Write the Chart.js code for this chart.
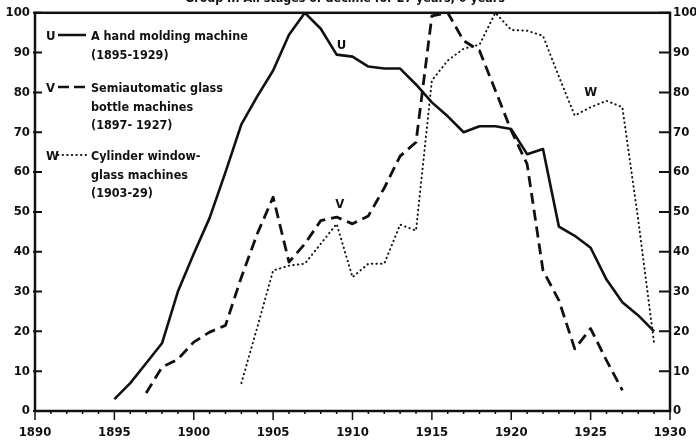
<!DOCTYPE html>
<html>
<head>
<meta charset="utf-8">
<script src="https://cdn.jsdelivr.net/npm/chart.js@4.4.1/dist/chart.umd.min.js"></script>
<style>
    html, body { margin: 0; padding: 0; background: #fff; }
    #wrap { width: 696px; height: 445px; }
</style>
</head>
<body>
<div id="wrap"><canvas id="stagesChart" width="696" height="445"></canvas></div>
<script>
// Years on the x axis and tick labels
const xTickYears = [1890, 1895, 1900, 1905, 1910, 1915, 1920, 1925, 1930];
const yTickValues = [0, 10, 20, 30, 40, 50, 60, 70, 80, 90, 100];

// U: a hand molding machine (1895-1929)
const uStart = 1895;
const uValues = [3, 7, 12, 17, 30, 39.5, 48.5, 60, 72, 79, 85.5, 94.5, 100, 96, 89.5, 89, 86.5, 86, 86, 82,
    77.5, 74, 70, 71.5, 71.5, 70.8, 64.5, 65.8, 46.3, 44, 41, 33, 27.3, 24, 20];

// V: semiautomatic glass bottle machines (1897-1927)
const vStart = 1897;
const vValues = [4.5, 11, 13, 17.3, 19.8, 21.5, 33.6, 44.5, 53.7, 37.4, 42, 47.8, 48.7, 47, 49, 56, 64, 67.5,
    99.2, 100, 93, 90.5, 80.5, 70.4, 62, 35.3, 27.8, 15.6, 20.7, 12.7, 5.2];

// W: cylinder window-glass machines (1903-29)
const wStart = 1903;
const wValues = [7, 21, 35.3, 36.5, 37, 42, 47, 33.6, 37, 37, 46.8, 45.3, 83, 88, 91, 92, 100, 95.7, 95.5,
    94.2, 84, 74.2, 76.3, 77.9, 76.3, 48, 17];

const titleText = 'Group II. All stages of decline for 27 years; 0 years';
const legendLines = [
    ['U', 'solid', ['A hand molding machine', '(1895-1929)']],
    ['V', 'dashed', ['Semiautomatic glass', 'bottle machines', '(1897- 1927)']],
    ['W', 'dotted', ['Cylinder window-', 'glass machines', '(1903-29)']]
];

const FAMILY = '"DejaVu Sans Condensed", "DejaVu Sans", sans-serif';
const FONT = 'bold 13px ' + FAMILY;
const INK = '#111';

function toPoints(start, values) {
    return values.map((v, i) => ({ x: start + i, y: v }));
}

const frameAndNotes = {
    id: 'frameAndNotes',
    afterDraw(chart) {
        const ctx = chart.ctx;
        const area = chart.chartArea;
        const x = chart.scales.x;
        const y = chart.scales.y;
        ctx.save();
        ctx.strokeStyle = INK;
        ctx.fillStyle = INK;

        // frame
        ctx.lineWidth = 2.5;
        ctx.strokeRect(area.left, area.top, area.right - area.left, area.bottom - area.top);

        // year ticks below the x axis
        ctx.lineWidth = 1.5;
        for (let yr = 1890; yr <= 1930; yr++) {
            const px = x.getPixelForValue(yr);
            const len = yr % 5 === 0 ? 9 : 3;
            ctx.beginPath();
            ctx.moveTo(px, area.bottom);
            ctx.lineTo(px, area.bottom + len);
            ctx.stroke();
        }

        // value ticks on both sides
        ctx.lineWidth = 2;
        yTickValues.forEach(v => {
            const py = y.getPixelForValue(v);
            ctx.beginPath();
            ctx.moveTo(area.left - 2, py);
            ctx.lineTo(area.left + 7, py);
            ctx.moveTo(area.right - 11, py);
            ctx.lineTo(area.right, py);
            ctx.stroke();
        });

        ctx.font = FONT;
        ctx.textBaseline = 'alphabetic';

        // title, cut by the top of the picture
        ctx.textAlign = 'center';
        ctx.fillText(titleText, 345, 1.5, 320);

        // legend
        ctx.textAlign = 'left';
        legendLines.forEach(([key, style, texts], n) => {
            const top = [40, 92, 160][n];
            ctx.font = FONT;
            ctx.fillText(key, 46, top);
            ctx.beginPath();
            ctx.lineWidth = style === 'dotted' ? 2 : 2.5;
            ctx.lineCap = style === 'dotted' ? 'round' : 'butt';
            ctx.setLineDash(style === 'dashed' ? [11, 5] : style === 'dotted' ? [0.4, 4.2] : []);
            ctx.moveTo(58, top - 5);
            ctx.lineTo(style === 'dotted' ? 88 : 86, top - 5);
            ctx.stroke();
            ctx.setLineDash([]);
            ctx.lineCap = 'butt';
            ctx.font = 'bold 12.5px ' + FAMILY;
            texts.forEach((t, i) => ctx.fillText(t, 91, top + i * 18.5));
        });

        // series labels
        ctx.font = FONT;
        ctx.textAlign = 'center';
        ctx.fillText('U', x.getPixelForValue(1909.3), y.getPixelForValue(91));
        ctx.fillText('V', x.getPixelForValue(1909.2), y.getPixelForValue(51));
        ctx.fillText('W', x.getPixelForValue(1925), y.getPixelForValue(79));
        ctx.restore();
    }
};

function sideAxis(position, padding, width) {
    return {
        type: 'linear',
        position: position,
        min: 0,
        max: 100,
        afterFit(scale) { scale.width = width; },
        afterBuildTicks(scale) { scale.ticks = yTickValues.map(v => ({ value: v })); },
        grid: { display: false, drawTicks: false },
        border: { display: false },
        ticks: {
            color: INK,
            padding: padding,
            crossAlign: 'near',
            font: { family: FAMILY, size: 13, weight: 'bold' }
        }
    };
}

new Chart(document.getElementById('stagesChart'), {
    type: 'line',
    data: {
        datasets: [
            {
                label: 'U',
                data: toPoints(uStart, uValues),
                borderColor: INK,
                borderWidth: 2.6
            },
            {
                label: 'V',
                data: toPoints(vStart, vValues),
                borderColor: INK,
                borderWidth: 2.8,
                borderDash: [11, 6]
            },
            {
                label: 'W',
                data: toPoints(wStart, wValues),
                borderColor: INK,
                borderWidth: 2,
                borderCapStyle: 'round',
                borderDash: [0.4, 4.2]
            }
        ]
    },
    options: {
        responsive: false,
        animation: false,
        devicePixelRatio: 1,
        layout: { padding: { top: 12, left: 0, right: 0, bottom: 0 } },
        elements: {
            point: { radius: 0 },
            line: { tension: 0, borderCapStyle: 'butt', borderJoinStyle: 'round' }
        },
        plugins: {
            legend: { display: false },
            tooltip: { enabled: false },
            title: { display: false }
        },
        scales: {
            x: {
                type: 'linear',
                min: 1890,
                max: 1930,
                afterFit(scale) {
                    scale.height = 34;
                    scale.paddingLeft = 0;
                    scale.paddingRight = 0;
                },
                afterBuildTicks(scale) { scale.ticks = xTickYears.map(v => ({ value: v })); },
                grid: { display: false, drawTicks: false },
                border: { display: false },
                ticks: {
                    color: INK,
                    padding: 14,
                    maxRotation: 0,
                    callback: v => String(v),
                    font: { family: FAMILY, size: 13, weight: 'bold' }
                }
            },
            y: sideAxis('left', 5, 35),
            y2: sideAxis('right', 3, 26)
        }
    },
    plugins: [frameAndNotes]
});
</script>
</body>
</html>
